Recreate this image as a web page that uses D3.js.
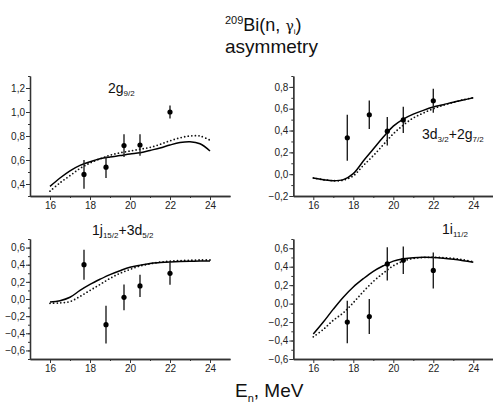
<!DOCTYPE html>
<html>
<head>
<meta charset="utf-8">
<script src="https://cdn.jsdelivr.net/npm/d3@7"></script>
<style>
body { margin: 0; background: #fff; }
svg { display: block; font-family: "Liberation Sans", Arial, sans-serif; }
</style>
</head>
<body>
<svg id="chart" width="493" height="403"></svg>
<script>
// energy grid of the calculated curves, MeV
var curveE = [16, 16.5, 17, 17.5, 18, 18.5, 19, 19.5, 20, 20.5, 21, 21.5, 22, 22.5, 23, 23.5, 24];
// measured energies, MeV
var expE = [17.7, 18.8, 19.7, 20.5, 22.0];
var xTicks = [16, 18, 20, 22, 24];

// 2g9/2
var g92Solid  = [0.38, 0.45, 0.51, 0.555, 0.585, 0.61, 0.625, 0.637, 0.65, 0.66, 0.68, 0.70, 0.725, 0.745, 0.752, 0.735, 0.675];
var g92Dotted = [0.34, 0.41, 0.47, 0.53, 0.575, 0.61, 0.64, 0.66, 0.675, 0.69, 0.705, 0.73, 0.76, 0.785, 0.80, 0.80, 0.765];
var g92Exp = [0.48, 0.54, 0.72, 0.725, 1.0];
var g92Err = [0.12, 0.09, 0.095, 0.09, 0.055];
var g92Ticks = [0.4, 0.6, 0.8, 1.0, 1.2];

// 3d3/2 + 2g7/2
var d32Solid  = [-0.035, -0.05, -0.06, -0.05, 0.005, 0.12, 0.23, 0.34, 0.44, 0.505, 0.55, 0.585, 0.615, 0.637, 0.66, 0.68, 0.70];
var d32Dotted = [-0.035, -0.05, -0.06, -0.055, -0.015, 0.08, 0.17, 0.27, 0.37, 0.45, 0.515, 0.56, 0.60, 0.632, 0.658, 0.682, 0.702];
var d32Exp = [0.334, 0.545, 0.394, 0.497, 0.673];
var d32Err = [0.21, 0.13, 0.13, 0.12, 0.11];
var d32Ticks = [-0.2, 0.0, 0.2, 0.4, 0.6, 0.8];

// 1j15/2 + 3d5/2
var j152Solid  = [-0.035, -0.02, 0.02, 0.10, 0.17, 0.23, 0.285, 0.33, 0.37, 0.395, 0.415, 0.425, 0.432, 0.437, 0.44, 0.442, 0.443];
var j152Dotted = [-0.05, -0.045, -0.03, 0.03, 0.10, 0.17, 0.24, 0.30, 0.345, 0.385, 0.41, 0.43, 0.44, 0.448, 0.452, 0.455, 0.455];
var j152Exp = [0.40, -0.30, 0.02, 0.152, 0.30];
var j152Err = [0.175, 0.22, 0.15, 0.13, 0.135];
var j152Ticks = [-0.6, -0.4, -0.2, 0.0, 0.2, 0.4, 0.6];

// 1i11/2
var i112Solid  = [-0.33, -0.20, -0.06, 0.07, 0.18, 0.27, 0.35, 0.41, 0.46, 0.485, 0.498, 0.502, 0.50, 0.492, 0.48, 0.465, 0.448];
var i112Dotted = [-0.36, -0.28, -0.18, -0.10, 0.01, 0.13, 0.24, 0.33, 0.41, 0.46, 0.49, 0.50, 0.502, 0.498, 0.49, 0.475, 0.455];
var i112Exp = [-0.20, -0.14, 0.43, 0.47, 0.36];
var i112Err = [0.23, 0.19, 0.18, 0.15, 0.195];
var i112Ticks = [-0.6, -0.4, -0.2, 0.0, 0.2, 0.4, 0.6];

var panels = [
  {solid: g92Solid, dotted: g92Dotted, exp: g92Exp, err: g92Err, ticks: g92Ticks,
   yDomain: [0.3, 1.3], left: 30, top: 76, bottom: 196,
   label: [["2g", ""], ["9/2", "sub"]], lx: 108, ly: 96},
  {solid: d32Solid, dotted: d32Dotted, exp: d32Exp, err: d32Err, ticks: d32Ticks,
   yDomain: [-0.2, 0.9], left: 293.3, top: 76, bottom: 196,
   label: [["3d", ""], ["3/2", "sub"], ["+2g", ""], ["7/2", "sub"]], lx: 422, ly: 142},
  {solid: j152Solid, dotted: j152Dotted, exp: j152Exp, err: j152Err, ticks: j152Ticks,
   yDomain: [-0.7, 0.7], left: 30, top: 239, bottom: 359,
   label: [["1j", ""], ["15/2", "sub"], ["+3d", ""], ["5/2", "sub"]], lx: 92, ly: 238},
  {solid: i112Solid, dotted: i112Dotted, exp: i112Exp, err: i112Err, ticks: i112Ticks,
   yDomain: [-0.6, 0.7], left: 293.3, top: 239, bottom: 359,
   label: [["1i", ""], ["11/2", "sub"]], lx: 442, ly: 237}
];

var svg = d3.select('#chart');
var comma = function(v){ return d3.format('.1f')(v).replace('.', ','); };

function minorValues(domain, step){
  var out = [];
  var start = Math.ceil(domain[0] / step - 1e-6);
  for (var k = start; k * step <= domain[1] + 1e-6; k++) out.push(+(k * step).toFixed(2));
  return out;
}

function styleAxis(g){
  g.select('.domain').attr('stroke', '#333').attr('stroke-width', 1.3);
  g.selectAll('.tick line').attr('stroke', '#333').attr('stroke-width', 1);
  g.selectAll('.tick text').attr('fill', '#222').style('font-size', '10px')
    .style('font-family', '"Liberation Sans", Arial, sans-serif');
}

panels.forEach(function(p){
  var x = d3.scaleLinear().domain([15, 25]).range([p.left, p.left + 200]);
  var y = d3.scaleLinear().domain(p.yDomain).range([p.bottom, p.top]);
  var g = svg.append('g');

  // minor ticks
  g.append('g')
    .attr('transform', `translate(0, ${p.bottom})`)
    .call(d3.axisBottom(x).tickValues([17, 19, 21, 23]).tickSize(2).tickSizeOuter(0).tickFormat(''))
    .call(styleAxis);
  g.append('g')
    .attr('transform', `translate(${p.left}, 0)`)
    .call(d3.axisLeft(y).tickValues(minorValues(p.yDomain, 0.1)).tickSize(2).tickSizeOuter(0).tickFormat(''))
    .call(styleAxis);

  // major ticks
  g.append('g')
    .attr('transform', `translate(0, ${p.bottom})`)
    .call(d3.axisBottom(x).tickValues(xTicks).tickSize(4).tickPadding(2).tickSizeOuter(0).tickFormat(d3.format('d')))
    .call(styleAxis);
  g.append('g')
    .attr('transform', `translate(${p.left}, 0)`)
    .call(d3.axisLeft(y).tickValues(p.ticks).tickSize(4).tickPadding(1).tickSizeOuter(0).tickFormat(comma))
    .call(styleAxis);

  var line = d3.line()
    .x(function(d, i){ return x(curveE[i]); })
    .y(function(d){ return y(d); })
    .curve(d3.curveCatmullRom);

  g.append('path')
    .datum(p.dotted)
    .attr('fill', 'none')
    .attr('stroke', '#111')
    .attr('stroke-width', 1.8)
    .attr('stroke-linecap', 'round')
    .attr('stroke-dasharray', '0,3.6')
    .attr('d', line);

  g.append('path')
    .datum(p.solid)
    .attr('fill', 'none')
    .attr('stroke', '#000')
    .attr('stroke-width', 1.5)
    .attr('d', line);

  // error bars and points
  g.selectAll('line.err')
    .data(p.exp)
    .enter()
    .append('line')
      .attr('class', 'err')
      .attr('x1', function(d, i){ return x(expE[i]); })
      .attr('x2', function(d, i){ return x(expE[i]); })
      .attr('y1', function(d, i){ return y(d - p.err[i]); })
      .attr('y2', function(d, i){ return y(d + p.err[i]); })
      .attr('stroke', '#222')
      .attr('stroke-width', 1.4);

  g.selectAll('circle')
    .data(p.exp)
    .enter()
    .append('circle')
      .attr('cx', function(d, i){ return x(expE[i]); })
      .attr('cy', function(d){ return y(d); })
      .attr('r', 2.6)
      .attr('fill', '#000');

  // state label
  var t = g.append('text')
    .attr('x', p.lx)
    .attr('y', p.ly)
    .style('font-size', '14px')
    .attr('fill', '#111');
  p.label.forEach(function(part){
    if (part[1] === 'sub') {
      t.append('tspan').attr('dy', 3).style('font-size', '8px').text(part[0]);
    } else {
      t.append('tspan').attr('dy', t.selectAll('tspan').size() ? -3 : 0).text(part[0]);
    }
  });
});

// title
var title = svg.append('text')
  .attr('x', 225).attr('y', 31)
  .style('font-size', '18px').attr('fill', '#111');
title.append('tspan').attr('dy', -7).style('font-size', '11px').text('209');
title.append('tspan').attr('dy', 7).text('Bi(n, ');
title.append('tspan').style('font-family', '"DejaVu Serif", serif').style('font-size', '14px').text('γ');
title.append('tspan').attr('dy', 3).style('font-size', '8px').text('i');
title.append('tspan').attr('dy', -3).text(')');

svg.append('text')
  .attr('x', 225).attr('y', 53)
  .style('font-size', '19px').attr('fill', '#111')
  .text('asymmetry');

// x axis title
var xt = svg.append('text')
  .attr('x', 235).attr('y', 397)
  .style('font-size', '19px').attr('fill', '#111');
xt.append('tspan').text('E');
xt.append('tspan').attr('dy', 5).style('font-size', '11px').text('n');
xt.append('tspan').attr('dy', -5).text(', MeV');
</script>
</body>
</html>
